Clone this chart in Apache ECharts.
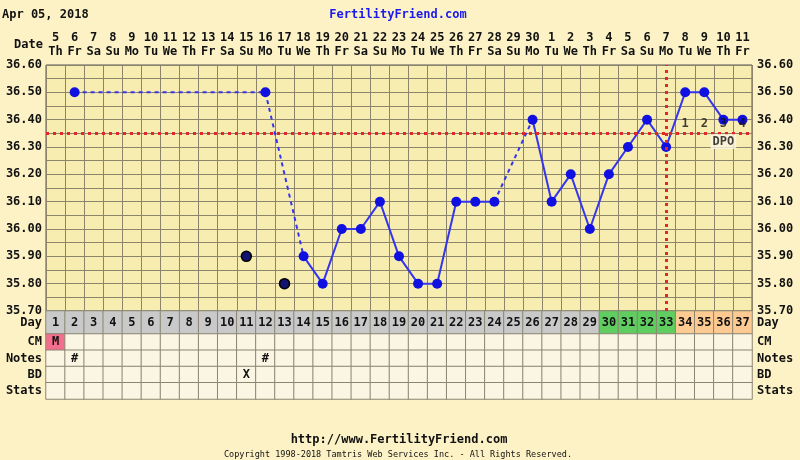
<!DOCTYPE html>
<html><head><meta charset="utf-8">
<script src="https://cdn.jsdelivr.net/npm/echarts@6/dist/echarts.min.js"></script>
<style>html,body{margin:0;padding:0;background:#fcf2c6;} #c{width:800px;height:460px;}</style>
</head><body><div id="c"></div>
<script>
// ---- data ----
const dateLabels = ['5','6','7','8','9','10','11','12','13','14','15','16','17','18','19','20','21','22','23','24','25','26','27','28','29','30','1','2','3','4','5','6','7','8','9','10','11'];
const weekdays = ['Th','Fr','Sa','Su','Mo','Tu','We','Th','Fr','Sa','Su','Mo','Tu','We','Th','Fr','Sa','Su','Mo','Tu','We','Th','Fr','Sa','Su','Mo','Tu','We','Th','Fr','Sa','Su','Mo','Tu','We','Th','Fr'];
const cycleDays = ['1','2','3','4','5','6','7','8','9','10','11','12','13','14','15','16','17','18','19','20','21','22','23','24','25','26','27','28','29','30','31','32','33','34','35','36','37'];
const temps = [null,36.50,null,null,null,null,null,null,null,null,null,36.50,null,35.90,35.80,36.00,36.00,36.10,35.90,35.80,35.80,36.10,36.10,36.10,null,36.40,36.10,36.20,36.00,36.20,36.30,36.40,36.30,36.50,36.50,36.40,36.40];
const discardDays = [11,13];
const discardTemps = [35.90,35.80];
const tempTicks = ['35.70','35.80','35.90','36.00','36.10','36.20','36.30','36.40','36.50','36.60'];
const coverline = 36.35;
const ovulationDay = 33;
const dpoLabels = ['1','2','3','4'];
const fertileDays = [30,31,32,33];
const lutealDays = [34,35,36,37];
const tableRows = ['CM','Notes','BD','Stats'];
const cmDays = [1], cmText = ['M'];
const noteDays = [2,12], noteText = ['#','#'];
const bdDays = [11], bdText = ['X'];

// ---- chart ----
const F = 'DejaVu Sans Mono';
const GRID = '#8c856b';
const txt = {fontFamily:F, fontWeight:'bold', fontSize:12, color:'#111'};
const N = cycleDays.length;

// solid segments: consecutive present days
const solid = temps.map((t,i)=> (t!=null && ((i>0 && temps[i-1]!=null) || (i<N-1 && temps[i+1]!=null))) ? t : null);
// dashed segments across gaps
const dashedSeries = [];
let prev = -1;
temps.forEach((t,i)=>{
  if (t==null) return;
  if (prev>=0 && i-prev>1){
    const d = new Array(N).fill(null);
    d[prev]=temps[prev]; d[i]=t;
    dashedSeries.push({type:'line', xAxisIndex:0, yAxisIndex:0, data:d, connectNulls:true, showSymbol:false, silent:true,
      lineStyle:{color:'#3535ee', width:2, type:[4,4]}, z:3});
  }
  prev = i;
});

const dayRow = cycleDays.map((d,i)=>{
  const day = i+1;
  let c = '#c9c9c9';
  if (fertileDays.includes(day)) c = '#5fcd5f';
  if (lutealDays.includes(day)) c = '#fdca92';
  return {value:[i,0,1], itemStyle:{color:c}};
});
const tableCells = [];
const cellText = {};
cmDays.forEach((d,k)=>cellText[(d-1)+'_0']=cmText[k]);
noteDays.forEach((d,k)=>cellText[(d-1)+'_1']=noteText[k]);
bdDays.forEach((d,k)=>cellText[(d-1)+'_2']=bdText[k]);
for (let r=0;r<tableRows.length;r++) for (let i=0;i<N;i++){
  let c = '#fbf5e4';
  if (r===0 && cmDays.includes(i+1)) c = '#f36d8c';
  tableCells.push({value:[i,r,1], itemStyle:{color:c}});
}

const option = {
  animation:false,
  backgroundColor:'#fcf2c6',
  grid:[
    {left:46, top:65, width:706, height:246, show:true, backgroundColor:'#f7edb1', borderColor:'#555', borderWidth:1},
    {left:46, top:311, width:706, height:23},
    {left:46, top:334, width:706, height:65}
  ],
  xAxis:[
    {type:'category', gridIndex:0, data:cycleDays, position:'top', boundaryGap:true,
     axisLine:{show:false}, axisTick:{show:false},
     axisLabel:{interval:0, margin:6, formatter:(v,i)=>`{d|${dateLabels[i]}}\n{w|${weekdays[i]}}`,
       rich:{d:Object.assign({lineHeight:14},txt), w:Object.assign({lineHeight:14},txt)}},
     splitLine:{show:true, interval:0, lineStyle:{color:GRID, width:1}}},
    {type:'category', gridIndex:1, data:cycleDays, axisLine:{show:false}, axisTick:{show:false}, axisLabel:{show:false}},
    {type:'category', gridIndex:2, data:cycleDays, axisLine:{show:false}, axisTick:{show:false}, axisLabel:{show:false}}
  ],
  yAxis:[
    {type:'value', gridIndex:0, min:35.7, max:36.6, interval:0.05,
     axisLine:{show:false}, axisTick:{show:false},
     axisLabel:Object.assign({margin:4, formatter:v=>{const k=Math.round(v*100); return k%10===0 ? tempTicks[Math.round((k-3570)/10)] : '';}}, txt),
     splitLine:{show:true, lineStyle:{color:GRID, width:1}}},
    {type:'value', gridIndex:0, position:'right', min:35.7, max:36.6, interval:0.05,
     axisLine:{show:false}, axisTick:{show:false},
     axisLabel:Object.assign({margin:5, formatter:v=>{const k=Math.round(v*100); return k%10===0 ? tempTicks[Math.round((k-3570)/10)] : '';}}, txt),
     splitLine:{show:false}},
    {type:'category', gridIndex:1, data:['Day'], axisLine:{show:false}, axisTick:{show:false}, axisLabel:Object.assign({margin:4}, txt)},
    {type:'category', gridIndex:1, data:['Day'], position:'right', axisLine:{show:false}, axisTick:{show:false}, axisLabel:Object.assign({margin:5}, txt)},
    {type:'category', gridIndex:2, data:tableRows, inverse:true, axisLine:{show:false}, axisTick:{show:false}, axisLabel:Object.assign({margin:4}, txt)},
    {type:'category', gridIndex:2, data:tableRows, inverse:true, position:'right', axisLine:{show:false}, axisTick:{show:false}, axisLabel:Object.assign({margin:5}, txt)}
  ],
  series:[
    {type:'heatmap', xAxisIndex:1, yAxisIndex:2, data:dayRow,
     itemStyle:{borderColor:'#8a8672', borderWidth:1},
     label:Object.assign({show:true, formatter:p=>cycleDays[p.value[0]]}, txt)},
    {type:'heatmap', xAxisIndex:2, yAxisIndex:4, data:tableCells,
     itemStyle:{borderColor:'#8a8672', borderWidth:1},
     label:Object.assign({show:true, formatter:p=>cellText[p.value[0]+'_'+p.value[1]]||''}, txt)},
    {type:'line', xAxisIndex:0, yAxisIndex:0, data:solid, connectNulls:false, showSymbol:false, silent:true,
     lineStyle:{color:'#3535ee', width:2}, z:3,
     markLine:{symbol:'none', silent:true, label:{show:false}, animation:false,
       lineStyle:{color:'#e3262a', width:3, type:[3,4]},
       data:[{yAxis:coverline},{xAxis:String(ovulationDay)}]}},
    ...dashedSeries,
    {type:'scatter', xAxisIndex:0, yAxisIndex:0, data:temps.map((t,i)=>t==null?null:[i,t]).filter(Boolean),
     symbolSize:10, itemStyle:{color:'#1010e0', opacity:1}, z:4},
    {type:'scatter', xAxisIndex:0, yAxisIndex:0, data:discardDays.map((d,k)=>[d-1,discardTemps[k]]),
     symbolSize:10, itemStyle:{color:'#121270', borderColor:'#000', borderWidth:1.5, opacity:1}, z:4},
    {type:'scatter', xAxisIndex:0, yAxisIndex:0, symbolSize:0, silent:true, z:5,
     data:dpoLabels.map((l,k)=>[ovulationDay+k, coverline+0.035]),
     label:Object.assign({show:true, position:'inside', formatter:p=>dpoLabels[p.dataIndex]}, txt)},
    {type:'scatter', xAxisIndex:0, yAxisIndex:0, symbolSize:0, silent:true, z:5,
     data:[[ovulationDay+2, coverline-0.03]],
     label:Object.assign({show:true, position:'inside', formatter:'DPO', backgroundColor:'#fbf5e2', padding:[2,2,1,2]}, txt)}
  ],
  graphic:[
    {type:'text', left:2, top:9, style:{text:'Apr 05, 2018', font:'bold 12px '+F, fill:'#111'}},
    {type:'text', x:398, y:15, style:{text:'FertilityFriend.com', font:'bold 12px '+F, fill:'#1a1aee', textAlign:'center', textVerticalAlign:'middle'}},
    {type:'text', x:43, y:45, style:{text:'Date', font:'bold 12px '+F, fill:'#111', textAlign:'right', textVerticalAlign:'middle'}},
    {type:'text', x:399, y:440, style:{text:'http://www.FertilityFriend.com', font:'bold 12px '+F, fill:'#111', textAlign:'center', textVerticalAlign:'middle'}},
    {type:'text', x:398, y:455, style:{text:'Copyright 1998-2018 Tamtris Web Services Inc. - All Rights Reserved.', font:'8.5px '+F, fill:'#111', textAlign:'center', textVerticalAlign:'middle'}}
  ]
};
const chart = echarts.init(document.getElementById('c'), null, {renderer:'canvas'});
chart.setOption(option);
</script></body></html>
